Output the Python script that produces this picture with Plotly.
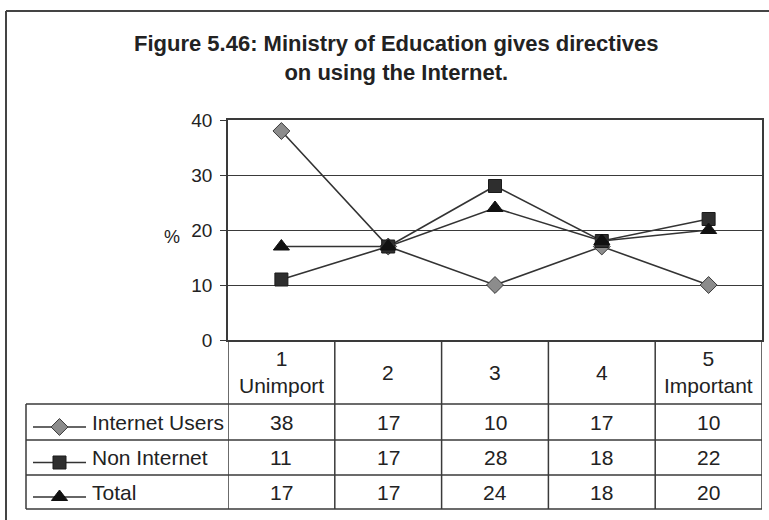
import plotly.graph_objects as go

# ---- data ----
categories = [1, 2, 3, 4, 5]
cat_labels = ["1<br>Unimport", "2", "3", "4", "5<br>Important"]
series_names = ["Internet Users", "Non Internet", "Total"]
internet_users = [38, 17, 10, 17, 10]
non_internet = [11, 17, 28, 18, 22]
total = [17, 17, 24, 18, 20]
y_ticks = [0, 10, 20, 30, 40]

series_values = [internet_users, non_internet, total]
markers = [
    dict(symbol="diamond", size=13, color="#8c8c8c", line=dict(color="#3a3a3a", width=1)),
    dict(symbol="square", size=13, color="#2e2e2e", line=dict(color="#1a1a1a", width=1)),
    dict(symbol="triangle-up", size=14, color="#111111", line=dict(color="#111111", width=1)),
]

W, H = 769, 520
PX0, PX1 = 228, 762
PT, PB = 120, 340
FONT = "Liberation Sans, Arial, sans-serif"
LC = "#3a3a3a"
TC = "#222222"


def py(y):
    return (H - y) / H


fig = go.Figure()

for name, vals, mk in zip(series_names, series_values, markers):
    fig.add_trace(go.Scatter(
        x=categories, y=vals, mode="lines+markers", name=name,
        line=dict(color="#333333", width=1.6), marker=mk, showlegend=False,
        cliponaxis=False, xaxis="x", yaxis="y"))

# table layout (pixel rows)
row_lines = [404, 440, 475, 509]
row_centers = [(row_lines[i] + row_lines[i + 1]) / 2 for i in range(3)]

# legend samples in table's first column (pixel overlay axis)
for i, mk in enumerate(markers):
    yy = row_centers[i] + 5
    fig.add_trace(go.Scatter(
        x=[33, 86], y=[yy, yy], mode="lines", line=dict(color="#333333", width=1.6),
        showlegend=False, xaxis="x2", yaxis="y2", hoverinfo="skip"))
    fig.add_trace(go.Scatter(
        x=[59.5], y=[yy], mode="markers", marker=mk,
        showlegend=False, xaxis="x2", yaxis="y2", hoverinfo="skip"))

shapes = []
# outer frame
shapes.append(dict(type="line", xref="paper", yref="paper", x0=6 / W, x1=1.01, y0=py(11), y1=py(11),
                   line=dict(color="#444444", width=2)))
shapes.append(dict(type="line", xref="paper", yref="paper", x0=6 / W, x1=6 / W, y0=py(11), y1=-0.01,
                   line=dict(color="#444444", width=2)))
# table horizontal lines
for yl in row_lines:
    shapes.append(dict(type="line", xref="paper", yref="paper", x0=26 / W, x1=PX1 / W,
                       y0=py(yl), y1=py(yl), line=dict(color=LC, width=1.5)))
# table left border
shapes.append(dict(type="line", xref="paper", yref="paper", x0=26 / W, x1=26 / W,
                   y0=py(row_lines[0]), y1=py(row_lines[-1]), line=dict(color=LC, width=1.5)))
# column lines through category axis
for k in range(len(categories) + 1):
    xb = categories[0] - 0.5 + k
    shapes.append(dict(type="line", xref="x", yref="paper", x0=xb, x1=xb,
                       y0=py(PB), y1=py(row_lines[-1]), line=dict(color=LC, width=1.5)))

annotations = []
# title
annotations.append(dict(
    text="<b>Figure 5.46: Ministry of Education gives directives<br>on using the Internet.</b>",
    xref="paper", yref="paper", x=396 / W, y=py(58), xanchor="center", yanchor="middle",
    showarrow=False, font=dict(family=FONT, size=22, color=TC)))
# y label
annotations.append(dict(text="%", xref="paper", yref="paper", x=172 / W, y=py(237),
                        xanchor="center", yanchor="middle", showarrow=False,
                        font=dict(family=FONT, size=18, color=TC)))
# header labels
for c, lab in zip(categories, cat_labels):
    annotations.append(dict(text=lab, xref="x", yref="paper", x=c, y=py((PB + row_lines[0]) / 2),
                            xanchor="center", yanchor="middle", showarrow=False,
                            font=dict(family=FONT, size=21, color=TC)))
# row labels and values
for i, (name, vals) in enumerate(zip(series_names, series_values)):
    annotations.append(dict(text=name, xref="paper", yref="paper", x=90 / W, y=py(row_centers[i]),
                            xanchor="left", yanchor="middle", showarrow=False,
                            font=dict(family=FONT, size=21, color=TC)))
    for c, v in zip(categories, vals):
        annotations.append(dict(text=str(v), xref="x", yref="paper", x=c, y=py(row_centers[i]),
                                xanchor="center", yanchor="middle", showarrow=False,
                                font=dict(family=FONT, size=21, color=TC)))

fig.update_layout(
    width=W, height=H, margin=dict(l=0, r=0, t=0, b=0, autoexpand=False),
    paper_bgcolor="white", plot_bgcolor="rgba(0,0,0,0)",
    xaxis=dict(domain=[PX0 / W, PX1 / W], range=[0.5, 5.5], showticklabels=False,
               showgrid=False, zeroline=False, showline=True, mirror=True,
               linecolor=LC, linewidth=1.5, ticks=""),
    yaxis=dict(domain=[py(PB), py(PT)], range=[0, 40], tickvals=y_ticks,
               showgrid=True, gridcolor=LC, gridwidth=1.2, zeroline=False,
               showline=True, linecolor=LC, linewidth=1.5, mirror=True,
               ticks="outside", ticklen=6, tickcolor=LC, tickwidth=1.2,
               ticklabelstandoff=4,
               tickfont=dict(family=FONT, size=19, color=TC)),
    xaxis2=dict(domain=[0, 1], range=[0, W], visible=False, anchor="y2"),
    yaxis2=dict(domain=[0, 1], range=[H, 0], visible=False, anchor="x2"),
    shapes=shapes, annotations=annotations, showlegend=False,
)

fig.write_html("out.html", config={"displayModeBar": False},
               post_script="document.body.style.margin='0';")
